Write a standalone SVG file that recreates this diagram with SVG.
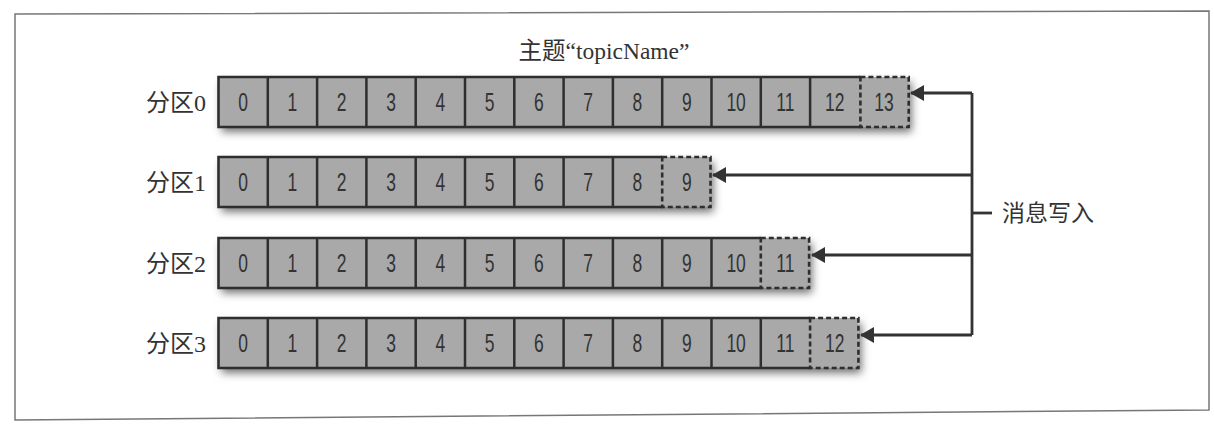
<svg xmlns="http://www.w3.org/2000/svg" width="1214" height="431" viewBox="0 0 1214 431">
<style>
.fillrow{fill:#a9a9a9}
.out{fill:none;stroke:#2e2e2e;stroke-width:2.6}
.sep{stroke:#2e2e2e;stroke-width:2.5}
.last{fill:none;stroke:#2e2e2e;stroke-width:2.6;stroke-dasharray:5 3}
.num{font-family:"Liberation Sans",sans-serif;font-size:25px;fill:#333;text-anchor:middle}
.lbl{font-family:"Liberation Serif","Noto Sans CJK SC",serif;font-size:24px;fill:#333;text-anchor:end}
.title{font-family:"Liberation Serif","Noto Sans CJK SC",serif;font-size:23.5px;fill:#333;text-anchor:middle}
.note{font-family:"Noto Sans CJK SC",sans-serif;font-size:23px;fill:#333}
.wire{fill:none;stroke:#333;stroke-width:2.8}
</style>
<defs>
<filter id="sh" x="-5%" y="-30%" width="110%" height="170%">
<feDropShadow dx="3" dy="5" stdDeviation="4" flood-color="#000" flood-opacity="0.55"/>
</filter>
<marker id="ah" viewBox="0 0 14 16" refX="13" refY="8" markerWidth="14" markerHeight="16" markerUnits="userSpaceOnUse" orient="auto">
<path d="M14,8 L0,0 L0,16 Z" fill="#333"/>
</marker>
</defs>
<rect width="1214" height="431" fill="#fff"/>
<path d="M15,14 L1209,11 L1209,410 L15,420 Z" fill="none" stroke="#777" stroke-width="1.5"/>
<text class="title" x="604" y="59">主题“topicName”</text>

<g id="partition0">
<rect class="fillrow" filter="url(#sh)" x="218.5" y="77" width="690.2" height="50"/>
<path class="out" d="M860.4,77H218.5V127H860.4"/>
<rect class="last" x="860.4" y="77" width="48.3" height="50"/>
<path class="sep" d="M267.8,77V127M317.1,77V127M366.4,77V127M415.7,77V127M465,77V127M514.3,77V127M563.6,77V127M612.9,77V127M662.2,77V127M711.5,77V127M760.8,77V127M810.1,77V127"/>
<text class="lbl" x="206" y="111">分区0</text>
<g transform="scale(0.7,1)">
<text class="num" x="347.3" y="111">0</text><text class="num" x="417.7" y="111">1</text><text class="num" x="488.1" y="111">2</text><text class="num" x="558.6" y="111">3</text><text class="num" x="629" y="111">4</text><text class="num" x="699.4" y="111">5</text><text class="num" x="769.9" y="111">6</text><text class="num" x="840.3" y="111">7</text><text class="num" x="910.7" y="111">8</text><text class="num" x="981.1" y="111">9</text><text class="num" x="1051.6" y="111">10</text><text class="num" x="1122" y="111">11</text><text class="num" x="1192.4" y="111">12</text><text class="num" x="1262.9" y="111">13</text>
</g>
</g>

<g id="partition1">
<rect class="fillrow" filter="url(#sh)" x="218.5" y="157" width="492" height="50"/>
<path class="out" d="M662.2,157H218.5V207H662.2"/>
<rect class="last" x="662.2" y="157" width="48.3" height="50"/>
<path class="sep" d="M267.8,157V207M317.1,157V207M366.4,157V207M415.7,157V207M465,157V207M514.3,157V207M563.6,157V207M612.9,157V207"/>
<text class="lbl" x="206" y="191">分区1</text>
<g transform="scale(0.7,1)">
<text class="num" x="347.3" y="191">0</text><text class="num" x="417.7" y="191">1</text><text class="num" x="488.1" y="191">2</text><text class="num" x="558.6" y="191">3</text><text class="num" x="629" y="191">4</text><text class="num" x="699.4" y="191">5</text><text class="num" x="769.9" y="191">6</text><text class="num" x="840.3" y="191">7</text><text class="num" x="910.7" y="191">8</text><text class="num" x="981.1" y="191">9</text>
</g>
</g>

<g id="partition2">
<rect class="fillrow" filter="url(#sh)" x="218.5" y="238" width="590.6" height="50"/>
<path class="out" d="M760.8,238H218.5V288H760.8"/>
<rect class="last" x="760.8" y="238" width="48.3" height="50"/>
<path class="sep" d="M267.8,238V288M317.1,238V288M366.4,238V288M415.7,238V288M465,238V288M514.3,238V288M563.6,238V288M612.9,238V288M662.2,238V288M711.5,238V288"/>
<text class="lbl" x="206" y="272">分区2</text>
<g transform="scale(0.7,1)">
<text class="num" x="347.3" y="272">0</text><text class="num" x="417.7" y="272">1</text><text class="num" x="488.1" y="272">2</text><text class="num" x="558.6" y="272">3</text><text class="num" x="629" y="272">4</text><text class="num" x="699.4" y="272">5</text><text class="num" x="769.9" y="272">6</text><text class="num" x="840.3" y="272">7</text><text class="num" x="910.7" y="272">8</text><text class="num" x="981.1" y="272">9</text><text class="num" x="1051.6" y="272">10</text><text class="num" x="1122" y="272">11</text>
</g>
</g>

<g id="partition3">
<rect class="fillrow" filter="url(#sh)" x="218.5" y="318" width="639.9" height="50"/>
<path class="out" d="M810.1,318H218.5V368H810.1"/>
<rect class="last" x="810.1" y="318" width="48.3" height="50"/>
<path class="sep" d="M267.8,318V368M317.1,318V368M366.4,318V368M415.7,318V368M465,318V368M514.3,318V368M563.6,318V368M612.9,318V368M662.2,318V368M711.5,318V368M760.8,318V368"/>
<text class="lbl" x="206" y="352">分区3</text>
<g transform="scale(0.7,1)">
<text class="num" x="347.3" y="352">0</text><text class="num" x="417.7" y="352">1</text><text class="num" x="488.1" y="352">2</text><text class="num" x="558.6" y="352">3</text><text class="num" x="629" y="352">4</text><text class="num" x="699.4" y="352">5</text><text class="num" x="769.9" y="352">6</text><text class="num" x="840.3" y="352">7</text><text class="num" x="910.7" y="352">8</text><text class="num" x="981.1" y="352">9</text><text class="num" x="1051.6" y="352">10</text><text class="num" x="1122" y="352">11</text><text class="num" x="1192.4" y="352">12</text>
</g>
</g>

<g id="writer">
<text class="note" x="1002" y="221">消息写入</text>
</g>

<g id="connectors">
<path class="wire" d="M972,93V335"/>
<path class="wire" d="M972,213H992"/>
<path class="wire" d="M972,93H911" marker-end="url(#ah)"/>
<path class="wire" d="M972,175H713" marker-end="url(#ah)"/>
<path class="wire" d="M972,255H812" marker-end="url(#ah)"/>
<path class="wire" d="M972,335H861" marker-end="url(#ah)"/>
</g>
</svg>
